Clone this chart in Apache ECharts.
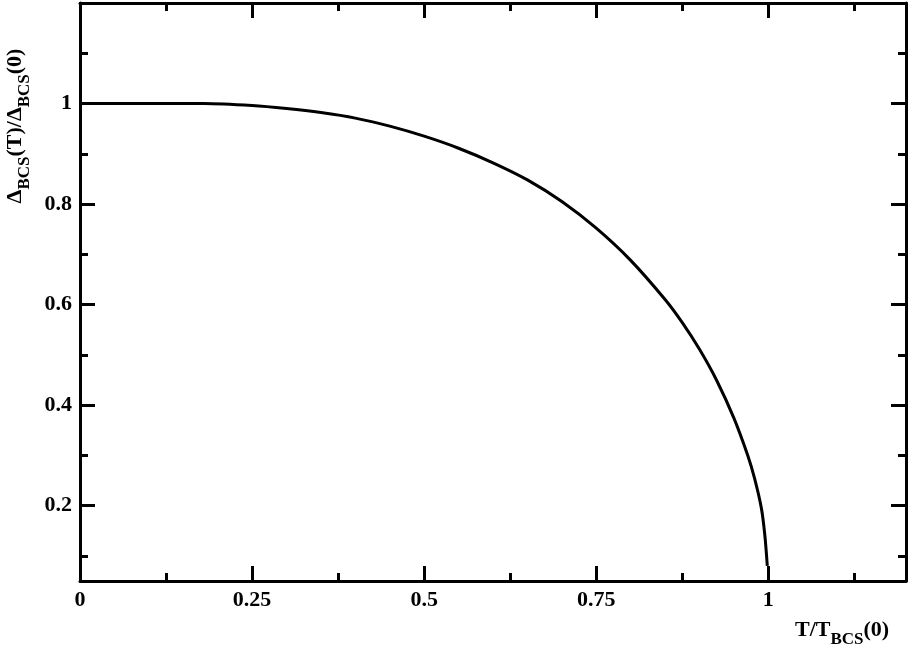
<!DOCTYPE html>
<html>
<head>
<meta charset="utf-8">
<script src="https://cdn.jsdelivr.net/npm/echarts@6/dist/echarts.min.js"></script>
<style>
  html, body { margin: 0; padding: 0; background: #fff; }
  #chart { width: 911px; height: 646px; }
</style>
</head>
<body>
<div id="chart"></div>
<script>
// reduced temperature T/T_BCS(0)
var tVals = [0, 0.18, 0.25, 0.30, 0.35, 0.40, 0.45, 0.50, 0.55, 0.60,
    0.65, 0.70, 0.75, 0.80, 0.85, 0.875, 0.90, 0.925, 0.95, 0.97,
    0.98, 0.99, 0.995, 0.9985];
// gap ratio Delta_BCS(T)/Delta_BCS(0)
var gapVals = [1.0, 1.0, 0.996, 0.990, 0.982, 0.971, 0.955, 0.935, 0.911, 0.882,
    0.848, 0.805, 0.752, 0.688, 0.610, 0.564, 0.511, 0.449, 0.374, 0.300,
    0.254, 0.194, 0.140, 0.080];

// tick positions
var xMajor = [0, 0.25, 0.5, 0.75, 1];
var xMinor = [0.125, 0.375, 0.625, 0.875, 1.125];
var yMajor = [0.2, 0.4, 0.6, 0.8, 1];
var yMinor = [0.1, 0.3, 0.5, 0.7, 0.9, 1.1];

var serif = '"Liberation Serif", "Times New Roman", serif';

var seriesData = tVals.map(function(t, i) {
    return [t, gapVals[i]];
});

// one axis for the long ticks, one for the short ones
function xAxisDef(pos, ticks, len, withLine, withLabel) {
    return {
        type: 'value', min: 0, max: 1.2, position: pos,
        axisLine: { show: withLine, onZero: false, lineStyle: { color: '#000', width: 3 } },
        axisTick: { show: true, inside: true, length: len, customValues: ticks,
            lineStyle: { color: '#000', width: 3 } },
        axisLabel: { show: withLabel, customValues: ticks, margin: 8,
            color: '#000', fontFamily: serif, fontWeight: 'bold', fontSize: 22 },
        splitLine: { show: false }
    };
}
function yAxisDef(pos, ticks, len, withLine, withLabel) {
    return {
        type: 'value', min: 0.05, max: 1.2, position: pos,
        axisLine: { show: withLine, onZero: false, lineStyle: { color: '#000', width: 3 } },
        axisTick: { show: true, inside: true, length: len, customValues: ticks,
            lineStyle: { color: '#000', width: 3 } },
        axisLabel: { show: withLabel, customValues: ticks, margin: 8,
            color: '#000', fontFamily: serif, fontWeight: 'bold', fontSize: 22 },
        splitLine: { show: false }
    };
}

var richStyles = {
    m: { fontFamily: serif, fontWeight: 'bold', fontSize: 22, lineHeight: 36, fill: '#000', color: '#000' },
    s: { fontFamily: serif, fontWeight: 'bold', fontSize: 17, lineHeight: 15, verticalAlign: 'bottom', fill: '#000', color: '#000' }
};

var chart = echarts.init(document.getElementById('chart'));
chart.setOption({
    animation: false,
    backgroundColor: '#fff',
    grid: { left: 80, top: 3, right: 5, bottom: 65, containLabel: false },
    xAxis: [
        xAxisDef('bottom', xMajor, 15, true, true),
        xAxisDef('bottom', xMinor, 8, false, false),
        xAxisDef('top', xMajor, 15, true, false),
        xAxisDef('top', xMinor, 8, false, false)
    ],
    yAxis: [
        yAxisDef('left', yMajor, 15, true, true),
        yAxisDef('left', yMinor, 8, false, false),
        yAxisDef('right', yMajor, 15, true, false),
        yAxisDef('right', yMinor, 8, false, false)
    ],
    series: [{
        type: 'line',
        xAxisIndex: 0,
        yAxisIndex: 0,
        data: seriesData,
        showSymbol: false,
        smooth: 0.3,
        lineStyle: { color: '#000', width: 3 }
    }],
    graphic: [
        {
            type: 'text', x: 15, y: 126, rotation: Math.PI / 2,
            style: {
                text: '{m|\u0394}{s|BCS}{m|(T)/\u0394}{s|BCS}{m|(0)}',
                rich: richStyles, align: 'center', verticalAlign: 'middle'
            }
        },
        {
            type: 'text', x: 795, y: 630,
            style: {
                text: '{m|T/T}{s|BCS}{m|(0)}',
                rich: richStyles, align: 'left', verticalAlign: 'middle'
            }
        }
    ]
});
</script>
</body>
</html>
